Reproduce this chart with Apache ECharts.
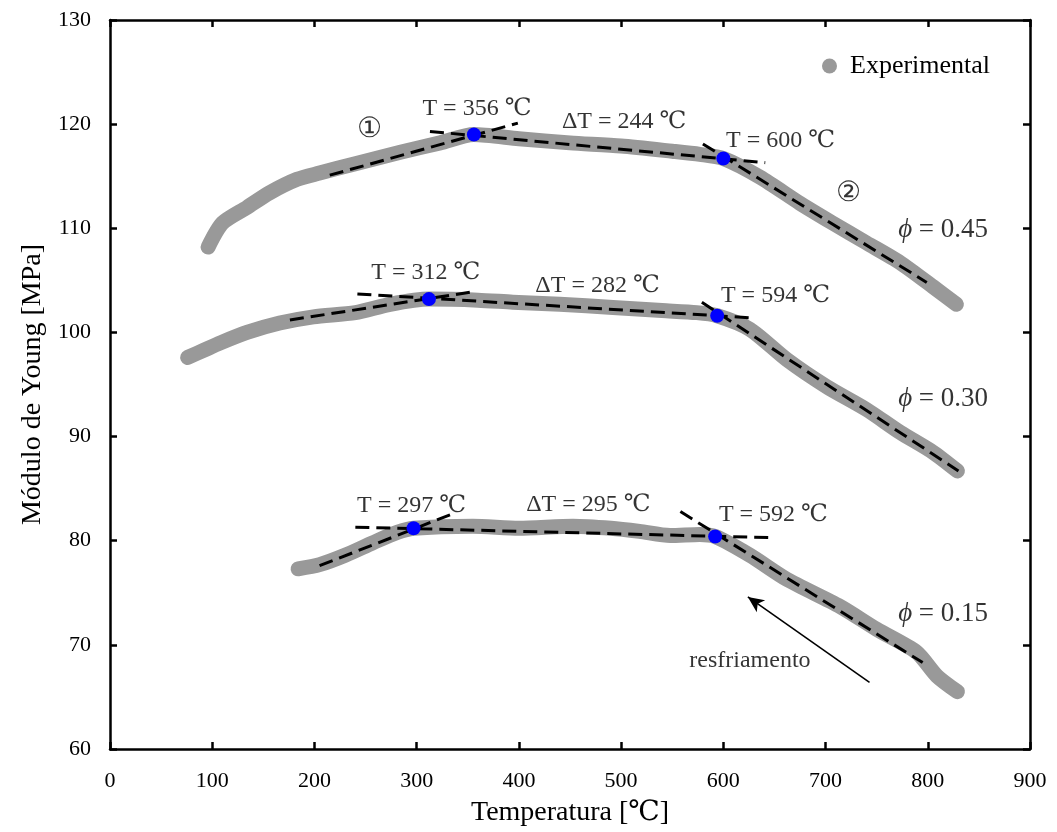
<!DOCTYPE html>
<html>
<head>
<meta charset="utf-8">
<script src="https://cdn.jsdelivr.net/npm/echarts@6/dist/echarts.min.js"></script>
<style>html,body{margin:0;padding:0;background:#fff}#c{width:1057px;height:832px}</style>
</head>
<body>
<div id="c"></div>
<script>
// ---- data ----
var xTicks = [0, 100, 200, 300, 400, 500, 600, 700, 800, 900];
var yTicks = [60, 70, 80, 90, 100, 110, 120, 130];

var exp045 = [[96,108.2],[110,110.5],[134,112.0],[156,113.4],[183,114.7],[205,115.3],[240,116.2],[284,117.3],[323,118.2],[356,119.0],[400,118.6],[450,118.2],[500,117.9],[550,117.4],[577,117.1],[600,116.7],[636,114.9],[675,112.4],[707,110.5],[740,108.6],[773,106.7],[805,104.4],[828,102.7]];
var exp030 = [[76,97.6],[92,98.3],[108,99.0],[134,100.0],[166,100.9],[199,101.5],[240,101.9],[274,102.7],[312,103.2],[360,103.1],[394,102.9],[440,102.7],[492,102.4],[540,102.1],[574,101.9],[594,101.6],[626,100.3],[662,97.4],[701,94.8],[740,92.6],[773,90.4],[805,88.5],[829,86.7]];
var exp015 = [[184,77.3],[205,77.7],[230,78.6],[257,79.8],[281,80.8],[297,81.2],[355,81.4],[400,81.2],[453,81.4],[490,81.2],[518,80.9],[548,80.5],[577,80.6],[592,80.4],[626,78.6],[662,76.3],[714,73.7],[750,71.5],[789,69.3],[809,67.0],[829,65.5]];

var tangents = [
  [[215,115.1],[399,120.1]], [[313,119.3],[641,116.3]], [[580,118.1],[799,104.8]],
  [[176,101.2],[355,103.9]], [[242,103.7],[628,101.4]], [[579,102.9],[830,86.7]],
  [[205,77.6],[333,82.5]],   [[240,81.3],[644,80.3]],   [[558,82.8],[795,68.3]]
];
var transitions = [[356,119.0],[600,116.7],[312,103.2],[594,101.6],[297,81.2],[592,80.4]];

var annoText = ['T = 356 ℃','ΔT = 244 ℃','①','T = 600 ℃','②','{i|ϕ} = 0.45',
                'T = 312 ℃','ΔT = 282 ℃','T = 594 ℃','{i|ϕ} = 0.30',
                'T = 297 ℃','ΔT = 295 ℃','T = 592 ℃','{i|ϕ} = 0.15','resfriamento'];
var annoPos = [[359,121.5],[503,120.2],[254,119.45],[656,118.4],[722,113.3],[815,109.8],
               [309,105.7],[477,104.5],[651,103.5],[815,93.6],
               [295,83.4],[468,83.5],[649,82.5],[815,72.95],[626,68.45]];
var annoSize = [24,24,28,24,28,27,24,24,24,27,24,24,24,27,24];
var arrowFrom = [743, 66.4];
var arrowTo = [624, 74.6];

// ---- build ----
var FONT = '"Liberation Serif", "DejaVu Serif", serif';
var GRAY = '#999999';

var tangentData = [];
tangents.forEach(function (s, i) {
  if (i > 0) tangentData.push([null, null]);
  tangentData.push(s[0], s[1]);
});

function expSeries(d) {
  return {
    name: 'Experimental', type: 'line', data: d, showSymbol: false, symbol: 'circle',
    smooth: 0.25,
    itemStyle: { color: GRAY },
    lineStyle: { color: GRAY, width: 15, cap: 'round', join: 'round' },
    z: 2, silent: true
  };
}

var annoData = annoText.map(function (t, i) {
  return { value: annoPos[i], name: t,
    label: { fontSize: annoSize[i], color: '#000', fontFamily: FONT,
      rich: { i: { fontStyle: 'italic', fontSize: annoSize[i], fontFamily: FONT, color: '#000' } } } };
});

var axisCommon = {
  type: 'value', splitLine: { show: false },
  axisLine: { show: true, onZero: false, lineStyle: { color: '#000', width: 2.5 } },
  axisTick: { show: true, inside: true, length: 7, lineStyle: { color: '#000', width: 2.5 } }
};

var option = {
  animation: false,
  backgroundColor: '#fff',
  textStyle: { fontFamily: FONT, color: '#000' },
  grid: { left: 110, right: 27, top: 20, bottom: 82, containLabel: false },
  legend: {
    data: ['Experimental'], icon: 'circle', itemWidth: 15, itemHeight: 15,
    left: 817, top: 48, selectedMode: false,
    textStyle: { fontFamily: FONT, fontSize: 26, color: '#000', padding: [0, 0, 0, 8] }
  },
  xAxis: [
    Object.assign({}, axisCommon, {
      min: xTicks[0], max: xTicks[xTicks.length - 1], interval: 100, position: 'bottom',
      name: 'Temperatura [℃]', nameLocation: 'middle', nameGap: 50,
      nameTextStyle: { fontFamily: FONT, fontSize: 28, color: '#000' },
      axisLabel: { fontFamily: FONT, fontSize: 22, color: '#000', margin: 21 }
    }),
    Object.assign({}, axisCommon, {
      min: xTicks[0], max: xTicks[xTicks.length - 1], interval: 100, position: 'top',
      axisLabel: { show: false }
    })
  ],
  yAxis: [
    Object.assign({}, axisCommon, {
      min: yTicks[0], max: yTicks[yTicks.length - 1], interval: 10, position: 'left',
      name: 'Módulo de Young [MPa]', nameLocation: 'middle', nameGap: 62, nameRotate: 90,
      nameTextStyle: { fontFamily: FONT, fontSize: 28, color: '#000' },
      axisLabel: { fontFamily: FONT, fontSize: 22, color: '#000', margin: 19 }
    }),
    Object.assign({}, axisCommon, {
      min: yTicks[0], max: yTicks[yTicks.length - 1], interval: 10, position: 'right',
      axisLabel: { show: false }
    })
  ],
  series: [
    expSeries(exp045), expSeries(exp030), expSeries(exp015),
    {
      name: 'tangent', type: 'line', data: tangentData, showSymbol: false, connectNulls: false,
      lineStyle: { color: '#000', width: 3, type: [14, 7] }, z: 3, silent: true
    },
    {
      name: 'transition', type: 'scatter', data: transitions, symbolSize: 14,
      itemStyle: { color: '#0000ff', opacity: 1 }, z: 4, silent: true
    },
    {
      name: 'arrow', type: 'line', data: [], silent: true,
      markLine: {
        silent: true, symbol: ['none', 'arrow'], symbolSize: [11, 16],
        lineStyle: { color: '#000', width: 1.6, type: 'solid' }, label: { show: false },
        data: [[{ coord: arrowFrom }, { coord: arrowTo }]]
      }
    },
    {
      name: 'annotations', type: 'scatter', data: annoData, symbolSize: 0, z: 5, silent: true,
      label: {
        show: true, position: 'inside', align: 'center', verticalAlign: 'middle',
        color: '#000', fontFamily: FONT,
        formatter: function (p) { return p.name; }
      }
    }
  ]
};

var chart = echarts.init(document.getElementById('c'), null, { renderer: 'canvas' });
chart.setOption(option);
</script>
</body>
</html>
